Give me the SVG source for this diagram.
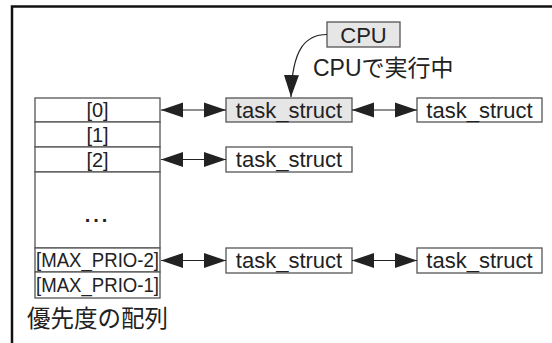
<svg xmlns="http://www.w3.org/2000/svg" width="552" height="343" viewBox="0 0 552 343">
<style>
.box{fill:#fff;stroke:#555;stroke-width:1.3}
.hl{fill:#e6e6e6;stroke:#555;stroke-width:1.3}
.t{font-family:"Liberation Sans","Noto Sans CJK JP",sans-serif;fill:#222;text-anchor:middle}
.lbl{font-size:20px}
.ts{font-size:22px}
.jp{font-family:"Liberation Sans","Noto Sans CJK JP",sans-serif;fill:#222;font-size:23px}
.con{stroke:#222;stroke-width:1.2;fill:none}
</style>
<defs>
<marker id="ah" markerWidth="22" markerHeight="16" refX="22" refY="8" orient="auto-start-reverse" markerUnits="userSpaceOnUse">
<path d="M0,0.5 L22,8 L0,15.5 z" fill="#222"/>
</marker>
</defs>
<rect width="552" height="343" fill="#fff"/>
<path d="M12,343 V6.5 H552" fill="none" stroke="#111" stroke-width="2.5"/>
<g id="array">
<rect class="box" x="35" y="98" width="125" height="24"/>
<text class="t lbl" x="97.5" y="117">[0]</text>
<rect class="box" x="35" y="122" width="125" height="25"/>
<text class="t lbl" x="97.5" y="141.5">[1]</text>
<rect class="box" x="35" y="147" width="125" height="25"/>
<text class="t lbl" x="97.5" y="166.5">[2]</text>
<rect class="box" x="35" y="172" width="125" height="76"/>
<text class="t" x="97.5" y="222" style="font-size:20px;font-weight:bold;letter-spacing:3px">...</text>
<rect class="box" x="35" y="248" width="125" height="24"/>
<text class="t lbl" x="97.5" y="267" textLength="123" lengthAdjust="spacingAndGlyphs">[MAX_PRIO-2]</text>
<rect class="box" x="35" y="272" width="125" height="26"/>
<text class="t lbl" x="97.5" y="292" textLength="123" lengthAdjust="spacingAndGlyphs">[MAX_PRIO-1]</text>
<text class="jp" x="27" y="327" style="font-size:23.5px">優先度の配列</text>
</g>
<g id="task0"><rect class="hl" x="226" y="98" width="126" height="24"/><text class="t ts" x="289" y="118">task_struct</text></g>
<g id="task0b"><rect class="box" x="417" y="98" width="125" height="24"/><text class="t ts" x="479.5" y="118">task_struct</text></g>
<g id="task2"><rect class="box" x="226" y="147" width="126" height="25"/><text class="t ts" x="289" y="167">task_struct</text></g>
<g id="taskm"><rect class="box" x="226" y="248" width="126" height="25"/><text class="t ts" x="289" y="268">task_struct</text></g>
<g id="taskmb"><rect class="box" x="417" y="248" width="125" height="25"/><text class="t ts" x="479.5" y="268">task_struct</text></g>
<g id="cpu"><rect class="hl" x="327" y="22" width="73" height="25"/><text class="t ts" x="363.5" y="42.5">CPU</text>
<text class="jp" x="313" y="76">CPUで実行中</text></g>
<g id="connectors">
<line class="con" x1="161" y1="110" x2="226" y2="110" marker-start="url(#ah)" marker-end="url(#ah)"/>
<line class="con" x1="352" y1="110" x2="417" y2="110" marker-start="url(#ah)" marker-end="url(#ah)"/>
<line class="con" x1="161" y1="159.5" x2="226" y2="159.5" marker-start="url(#ah)" marker-end="url(#ah)"/>
<line class="con" x1="161" y1="260.5" x2="226" y2="260.5" marker-start="url(#ah)" marker-end="url(#ah)"/>
<line class="con" x1="352" y1="260.5" x2="417" y2="260.5" marker-start="url(#ah)" marker-end="url(#ah)"/>
<path class="con" d="M327,34.5 C306,34.5 292,48 291,97" marker-end="url(#ah)"/>
</g>
</svg>
